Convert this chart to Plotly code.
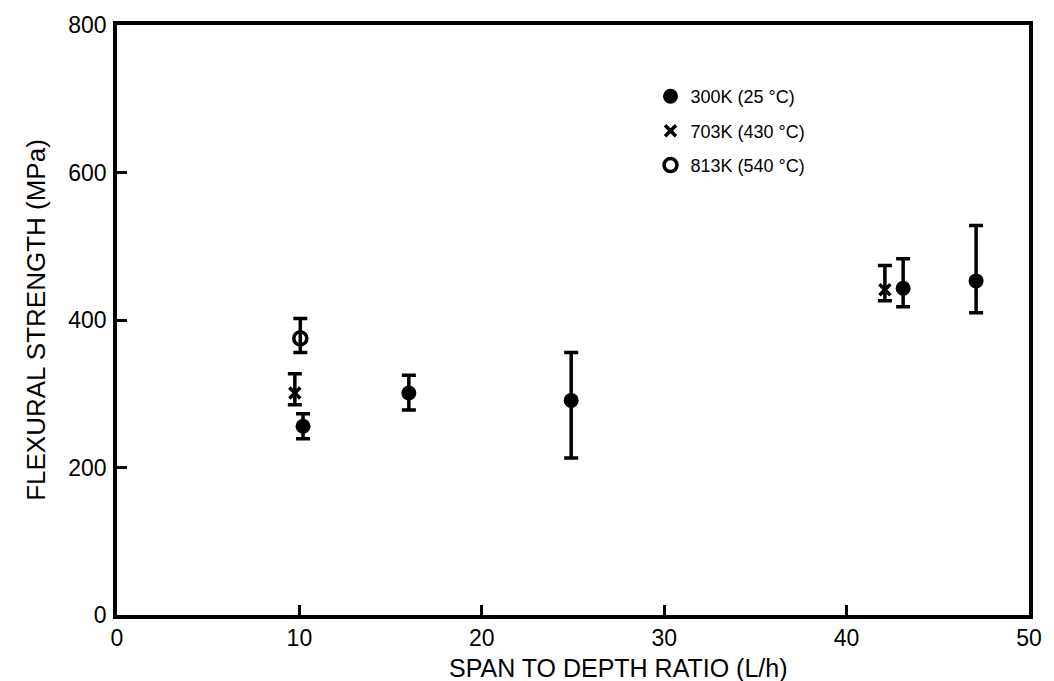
import plotly.graph_objects as go

# 300K (25 °C) filled circles
x_300 = [10.2, 16.0, 24.9, 43.1, 47.1]
y_300 = [256, 301, 291, 443, 453]
hi_300 = [273, 325, 356, 483, 528]
lo_300 = [239, 278, 213, 418, 410]

# 703K (430 °C) crosses
x_703 = [9.75, 42.1]
y_703 = [301, 441]
hi_703 = [327, 474]
lo_703 = [285, 426]

# 813K (540 °C) open circles
x_813 = [10.05]
y_813 = [375]
hi_813 = [402]
lo_813 = [356]

names = ["300K (25 °C)", "703K (430 °C)", "813K (540 °C)"]
x_title = "SPAN TO DEPTH RATIO (L/h)"
y_title = "FLEXURAL STRENGTH (MPa)"

FONT = "Liberation Sans, Arial, Helvetica, sans-serif"


def err(y, hi, lo):
    return dict(type="data", symmetric=False,
                array=[h - v for h, v in zip(hi, y)],
                arrayminus=[v - l for v, l in zip(y, lo)],
                color="black", thickness=3.5, width=7)


fig = go.Figure()
fig.add_trace(go.Scatter(
    x=x_300, y=y_300, mode="markers", name=names[0], legendgroup="a",
    marker=dict(symbol="circle", size=15, color="black"),
    error_y=err(y_300, hi_300, lo_300)))
fig.add_trace(go.Scatter(
    x=x_703, y=y_703, mode="markers", name=names[1], legendgroup="b",
    marker=dict(symbol="x-thin", size=11, color="black",
                line=dict(color="black", width=3.5)),
    error_y=err(y_703, hi_703, lo_703)))
fig.add_trace(go.Scatter(
    x=x_813, y=y_813, mode="markers", name=names[2], legendgroup="c",
    marker=dict(symbol="circle-open", size=13, color="black",
                line=dict(color="black", width=3.5)),
    error_y=err(y_813, hi_813, lo_813)))

axis_common = dict(
    showline=True, mirror=True, linecolor="black", linewidth=3.5,
    ticks="inside", ticklen=10, tickwidth=3, tickcolor="black",
    showgrid=False, zeroline=False,
    tickfont=dict(family=FONT, size=23, color="black"),
)

fig.update_layout(
    width=1054, height=681,
    margin=dict(l=117, r=21, t=22, b=66),
    paper_bgcolor="white", plot_bgcolor="white",
    font=dict(family=FONT, color="black"),
    xaxis=dict(range=[0, 50], dtick=10, tick0=0, **axis_common),
    yaxis=dict(range=[0, 800], dtick=200, tick0=0,
               title=dict(text=y_title,
                          font=dict(family=FONT, size=26), standoff=16),
               ticklabelstandoff=2,
               **axis_common),
    legend=dict(x=0.585, y=0.91, xanchor="left", yanchor="top",
                font=dict(family=FONT, size=18, color="black"),
                bgcolor="rgba(0,0,0,0)", tracegroupgap=8,
                itemwidth=30),
    showlegend=True,
    annotations=[dict(text=x_title, xref="paper", yref="paper",
                      x=0.55, y=-0.089, xanchor="center", yanchor="middle",
                      showarrow=False,
                      font=dict(family=FONT, size=25, color="black"))],
)

fig.write_html("out.html")
